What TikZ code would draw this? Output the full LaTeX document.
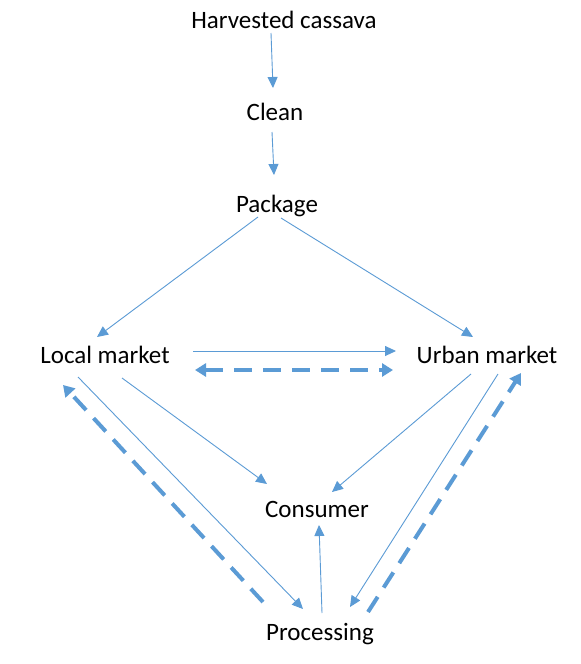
\documentclass[tikz,border=0pt]{standalone}
\usepackage{fontspec}
\setmainfont{Carlito}
\usetikzlibrary{arrows.meta}
\definecolor{flowblue}{RGB}{91,155,213}

\tikzset{
  stage/.style={font=\fontsize{25}{30}\selectfont, inner sep=0pt, anchor=base},
  flow/.style={flowblue, line width=0.9pt, -{Triangle[length=11pt,width=10pt]}},
  backflow/.style={flowblue, line width=4pt, dash pattern=on 18pt off 11pt,
    -{Triangle[length=11pt,width=13pt]}},
}

\begin{document}
\begin{tikzpicture}[x=1pt, y=-1pt]
  \useasboundingbox[fill=white] (0,0) rectangle (581,664);
  \node[stage] (H) at (284,28) {Harvested cassava};
  \node[stage] (C) at (275,120) {Clean};
  \node[stage] (P) at (277,212) {Package};
  \node[stage] (L) at (105,363) {Local market};
  \node[stage] (U) at (487,363) {Urban market};
  \node[stage] (Co) at (317,517) {Consumer};
  \node[stage] (Pr) at (320,640) {Processing};
  % main chain
  \draw[flow] ([shift={(-13,5)}]H.base) -- ([shift={(-2,-32)}]C.base);
  \draw[flow] ([shift={(-3,12)}]C.base) -- ([shift={(-3,-37)}]P.base);
  \draw[flow] ([shift={(-19,5)}]P.base) -- ([shift={(-8,-26)}]L.base);
  \draw[flow] ([shift={(4,6)}]P.base) -- ([shift={(-14,-26)}]U.base);
  % between markets
  \draw[flow] ([shift={(88,-12)}]L.base) -- ([shift={(-91,-12)}]U.base);
  \draw[backflow, {Triangle[length=11pt,width=13pt]}-{Triangle[length=11pt,width=13pt]}]
    ([shift={(90,7)}]L.base) -- ([shift={(-94,7)}]U.base);
  % to consumer and processing
  \draw[flow] ([shift={(17,15)}]L.base) -- ([shift={(-50,-33)}]Co.base);
  \draw[flow] ([shift={(-27,14)}]L.base) -- ([shift={(-17,-31)}]Pr.base);
  \draw[backflow] ([shift={(-57,-38)}]Pr.base) -- ([shift={(-42,22)}]L.base);
  \draw[flow] ([shift={(2,-27)}]Pr.base) -- ([shift={(2,8)}]Co.base);
  \draw[flow] ([shift={(-16,11)}]U.base) -- ([shift={(15,-25)}]Co.base);
  \draw[flow] ([shift={(11,11)}]U.base) -- ([shift={(30,-33)}]Pr.base);
  \draw[backflow] ([shift={(48,-28)}]Pr.base) -- ([shift={(34,10)}]U.base);
\end{tikzpicture}
\end{document}
